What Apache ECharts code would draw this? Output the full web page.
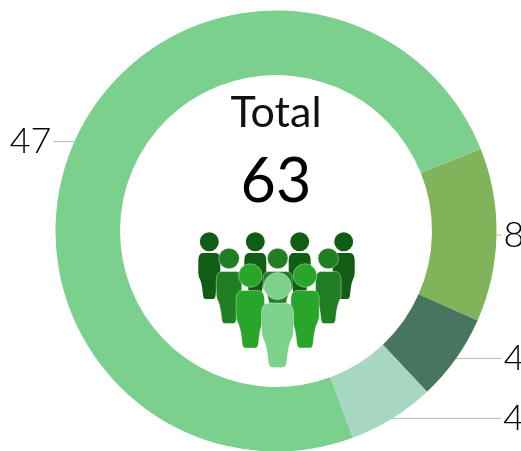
<!DOCTYPE html>
<html><head><meta charset="utf-8">
<style>html,body{margin:0;padding:0;background:#fff}#c{width:521px;height:451px}</style>
<script src="https://cdn.jsdelivr.net/npm/echarts@6/dist/echarts.min.js"></script>
</head><body><div id="c"></div>
<script>
var categories = ['B', 'C', 'D', 'A'];
var values = [8, 4, 4, 47];
var sliceColors = ['#81b45a', '#47755f', '#a6d7c2', '#7ad08c'];
var leaderLengths = [5, 46, 109, 21];
var centerTitle = 'Total';
var centerValue = '63';
var FONT = 'Lato';

echarts.graphic.registerShape('personBody', echarts.graphic.extendPath(
  'M-26 0 C-42 0 -50 5 -50 18 L-50 42 C-50 50 -46 54 -40 60 C-34 68 -31 80 -29 90 C-28 97 -24 100 -16 100 L16 100 C24 100 28 97 29 90 C31 80 34 68 40 60 C46 54 50 50 50 42 L50 18 C50 5 42 0 26 0 Z', {}));

function person(cx, headY, r, bodyTop, w, h, color, stroke) {
  var s = stroke ? { stroke: 'rgba(255,255,255,0.6)', lineWidth: 0.6, strokeNoScale: true } : {};
  return [
    { type: 'personBody', x: cx, y: bodyTop, scaleX: w / 100, scaleY: h / 100, style: Object.assign({ fill: color }, s) },
    { type: 'circle', shape: { cx: cx, cy: headY, r: r }, style: Object.assign({ fill: color }, s) }
  ];
}
var people = [].concat(
  person(209.3, 241.7, 9.5, 253, 22, 46, '#125d14'),
  person(255.3, 241.7, 9.5, 253, 22, 46, '#125d14'),
  person(299.7, 241.7, 9.5, 253, 22, 46, '#125d14'),
  person(343.7, 241.7, 9.5, 253, 22, 46, '#125d14'),
  person(229, 258.5, 10.3, 271.5, 25.5, 52, '#1f7f22', true),
  person(277.7, 258.5, 10.3, 271.5, 29, 36, '#1f7f22', true),
  person(328.3, 258.5, 10.3, 271.5, 25.5, 52, '#1f7f22', true),
  person(250.3, 275.5, 11.8, 290.5, 28.5, 57.5, '#29a529', true),
  person(305, 275.5, 11.8, 290.5, 28.5, 57.5, '#29a529', true),
  person(277.5, 286, 13.6, 303, 32, 64.5, '#7ed18a', true)
);

var chart = echarts.init(document.getElementById('c'), null, { renderer: 'canvas' });
chart.setOption({
  animation: false,
  series: [{
    type: 'pie',
    center: [276, 231],
    radius: [156, 220.5],
    startAngle: 21.8,
    clockwise: true,
    avoidLabelOverlap: false,
    label: {
      show: true, position: 'outside', bleedMargin: 0,
      formatter: '{c}', fontFamily: FONT, fontWeight: 300, fontSize: 36, color: '#000',
      distanceToLabelLine: 2, overflow: 'none'
    },
    labelLine: { show: true, length: 0, lineStyle: { color: '#bbb', width: 1 } },
    emphasis: { disabled: true },
    data: categories.map(function (n, i) {
      return { name: n, value: values[i], itemStyle: { color: sliceColors[i] },
        labelLine: { length: 0, length2: leaderLengths[i] } };
    })
  }],
  graphic: people.concat([
    { type: 'text', style: { text: centerTitle, x: 276, y: 113, align: 'center', verticalAlign: 'middle', font: '400 43px ' + FONT, fill: '#111' } },
    { type: 'text', style: { text: centerValue, x: 276, y: 182, align: 'center', verticalAlign: 'middle', font: '400 61px ' + FONT, fill: '#000' } }
  ])
});
</script></body></html>
